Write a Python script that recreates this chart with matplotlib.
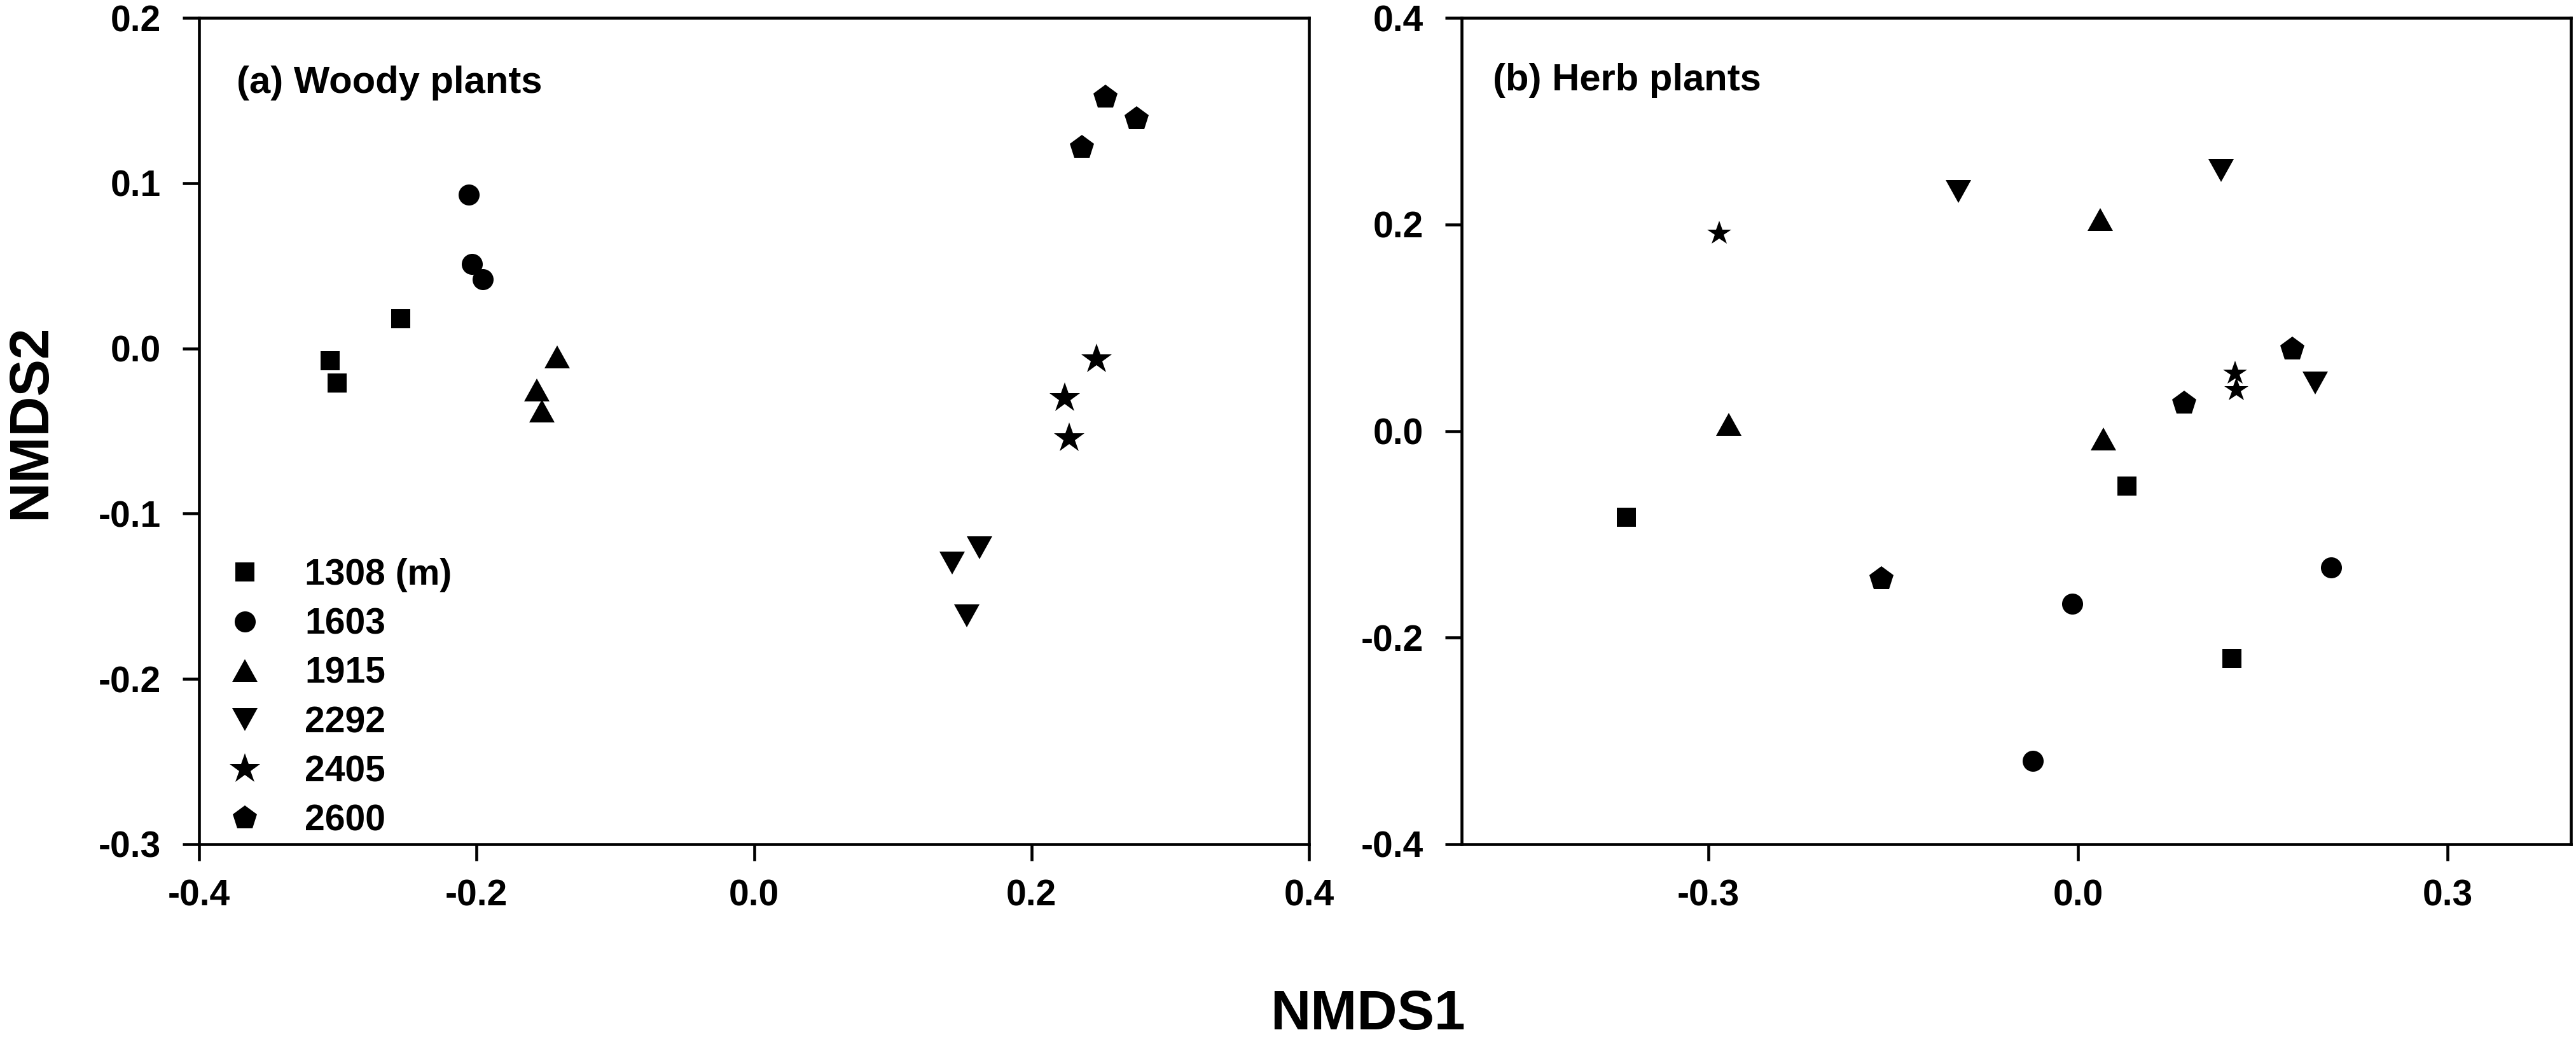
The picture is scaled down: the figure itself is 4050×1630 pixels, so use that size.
import matplotlib
matplotlib.use("Agg")
import matplotlib.pyplot as plt
from matplotlib.lines import Line2D
from matplotlib.markers import MarkerStyle
from matplotlib.transforms import Affine2D
from matplotlib.ticker import FixedLocator, FormatStrFormatter

plt.rcParams['font.family'] = ['Liberation Sans', 'DejaVu Sans']
plt.rcParams['font.weight'] = 'bold'
plt.rcParams['axes.unicode_minus'] = False

# ---------------- data ----------------
legend_labels = ['1308 (m)', '1603', '1915', '2292', '2405', '2600']

woody_1308_x = [-0.3054, -0.3005, -0.2545]
woody_1308_y = [-0.0073, -0.0209, 0.0181]
woody_1603_x = [-0.2058, -0.2032, -0.1955]
woody_1603_y = [0.0929, 0.0509, 0.0417]
woody_1915_x = [-0.1417, -0.1565, -0.1529]
woody_1915_y = [-0.0052, -0.0251, -0.0380]
woody_2292_x = [0.1430, 0.1627, 0.1535]
woody_2292_y = [-0.1300, -0.1208, -0.1620]
woody_2405_x = [0.2471, 0.2239, 0.2270]
woody_2405_y = [-0.0066, -0.0300, -0.0544]
woody_2600_x = [0.2535, 0.2756, 0.2363]
woody_2600_y = [0.1520, 0.1389, 0.1213]

herb_1308_x = [-0.3664, 0.0397, 0.1247]
herb_1308_y = [-0.0833, -0.0532, -0.2203]
herb_1603_x = [-0.0048, -0.0365, 0.2057]
herb_1603_y = [-0.1671, -0.3195, -0.1319]
herb_1915_x = [-0.2834, 0.0182, 0.0205]
herb_1915_y = [0.0063, 0.2050, -0.0076]
herb_2292_x = [-0.0969, 0.1164, 0.1927]
herb_2292_y = [0.2317, 0.2520, 0.0464]
herb_2405_x = [-0.2908, 0.1277, 0.1285]
herb_2405_y = [0.1913, 0.0560, 0.0398]
herb_2600_x = [-0.1593, 0.0864, 0.1740]
herb_2600_y = [-0.1433, 0.0268, 0.0790]

woody_xticks = [-0.4, -0.2, 0.0, 0.2, 0.4]
woody_yticks = [-0.3, -0.2, -0.1, 0.0, 0.1, 0.2]
herb_xticks = [-0.3, 0.0, 0.3]
herb_yticks = [-0.4, -0.2, 0.0, 0.2, 0.4]

# ---------------- styles ----------------
tri_up = MarkerStyle('^', transform=Affine2D().scale(1.0, 0.866))
tri_down = MarkerStyle('v', transform=Affine2D().scale(1.0, 0.866))

markers = ['s', 'o', tri_up, tri_down, '*', 'p']
sizes_woody = [22.3, 23.8, 29.5, 29.5, 35.6, 29.0]
sizes_herb = [22.3, 23.8, 29.5, 29.5, 29.0, 29.0]

W, H = 4050, 1630
fig = plt.figure(figsize=(W / 100, H / 100), dpi=100)

axA = fig.add_axes([313 / W, 1 - 1327 / H, (2058 - 313) / W, (1327 - 28) / H])
axB = fig.add_axes([2298 / W, 1 - 1327 / H, (4042 - 2298) / W, (1327 - 28) / H])

woody = [(woody_1308_x, woody_1308_y), (woody_1603_x, woody_1603_y),
         (woody_1915_x, woody_1915_y), (woody_2292_x, woody_2292_y),
         (woody_2405_x, woody_2405_y), (woody_2600_x, woody_2600_y)]
herb = [(herb_1308_x, herb_1308_y), (herb_1603_x, herb_1603_y),
        (herb_1915_x, herb_1915_y), (herb_2292_x, herb_2292_y),
        (herb_2405_x, herb_2405_y), (herb_2600_x, herb_2600_y)]

for (xs, ys), m, s in zip(woody, markers, sizes_woody):
    axA.plot(xs, ys, linestyle='none', marker=m, markersize=s,
             color='black', markeredgewidth=0)
for (xs, ys), m, s in zip(herb, markers, sizes_herb):
    axB.plot(xs, ys, linestyle='none', marker=m, markersize=s,
             color='black', markeredgewidth=0)

axA.set_xlim(-0.4, 0.4)
axA.set_ylim(-0.3, 0.2)
axB.set_xlim(-0.5, 0.4)
axB.set_ylim(-0.4, 0.4)

for ax, xt, yt in [(axA, woody_xticks, woody_yticks), (axB, herb_xticks, herb_yticks)]:
    ax.xaxis.set_major_locator(FixedLocator(xt))
    ax.yaxis.set_major_locator(FixedLocator(yt))
    ax.xaxis.set_major_formatter(FormatStrFormatter('%.1f'))
    ax.yaxis.set_major_formatter(FormatStrFormatter('%.1f'))
    for sp in ax.spines.values():
        sp.set_linewidth(3.3)
    ax.tick_params(axis='both', direction='out', length=18.5, width=3.3,
                   labelsize=41, top=False, right=False)
    ax.tick_params(axis='x', pad=21)
    ax.tick_params(axis='y', pad=24.5)
    for lab in ax.get_xticklabels() + ax.get_yticklabels():
        lab.set_fontweight('bold')

# panel titles
fig.text(372 / W, 1 - 146 / H, '(a) Woody plants', fontsize=43, fontweight='bold',
         ha='left', va='baseline')
fig.text(2347 / W, 1 - 142 / H, '(b) Herb plants', fontsize=43, fontweight='bold',
         ha='left', va='baseline')

# axis labels
fig.text(2150 / W, 1 - 1618 / H, 'NMDS1', fontsize=63, fontweight='bold',
         ha='center', va='baseline')
fig.text(71 / W, 1 - 663 / H, 'NMDS2', fontsize=63, fontweight='bold',
         ha='center', va='baseline', rotation=90, rotation_mode='anchor')

# legend
handles = [Line2D([], [], linestyle='none', marker=m, markersize=s, color='black',
                  markeredgewidth=0) for m, s in zip(markers, sizes_woody)]
leg = axA.legend(handles, legend_labels, loc='lower left',
                 bbox_to_anchor=((357 - 313) / 1745, 0.007), frameon=False,
                 fontsize=41, handlelength=1.0, handletextpad=1.15,
                 labelspacing=0.41, borderpad=0, borderaxespad=0)
for t in leg.get_texts():
    t.set_fontweight('bold')

fig.savefig('out.png', dpi=100, facecolor='white')
